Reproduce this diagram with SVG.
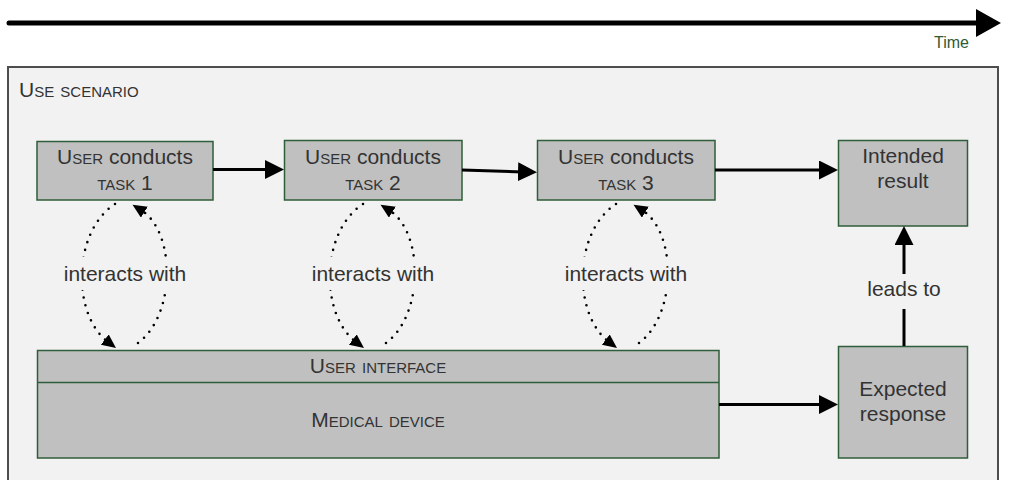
<svg xmlns="http://www.w3.org/2000/svg" width="1010" height="480" viewBox="0 0 1010 480">
<defs>
<style>
text{font-family:"Liberation Sans",Arial,sans-serif;fill:#333333;font-size:21px}
.c{text-anchor:middle}
.sc{font-variant:small-caps;font-size:22px}
.box{fill:#c0c0c0;stroke:#2f5e3a;stroke-width:1.5}
.edge{stroke:#000;stroke-width:3;fill:none}
.dot{stroke:#000;stroke-width:2.6;fill:none;stroke-dasharray:0 8;stroke-linecap:round}
.bg{fill:#f2f2f2}
</style>
<marker id="ah" markerUnits="userSpaceOnUse" markerWidth="20" markerHeight="20" refX="5" refY="9.5" orient="auto"><path d="M0,0 L19,9.5 L0,19 z" fill="#000"/></marker>
<marker id="dh" markerUnits="userSpaceOnUse" markerWidth="16" markerHeight="16" refX="4" refY="6.5" orient="auto"><path d="M0,0 L14,6.5 L0,13 z" fill="#000"/></marker>
</defs>
<rect width="1010" height="480" fill="#ffffff"/>

<g id="timeline">
<line x1="9" y1="23" x2="980" y2="23" stroke="#000" stroke-width="5" stroke-linecap="round"/>
<path d="M976,9 L1001,23 L976,37 z" fill="#000"/>
<text x="969" y="48" style="fill:#2e5a36;font-size:16px;text-anchor:end">Time</text>
</g>

<g id="use-scenario">
<rect x="8" y="67" width="990" height="425" fill="#f2f2f2" stroke="#4d4d4d" stroke-width="2"/>
<text x="19" y="97"><tspan>U</tspan><tspan class="sc">se scenario</tspan></text>
</g>

<g id="task1">
<rect class="box" x="37" y="141.5" width="176" height="58.5"/>
<text class="c" x="125" y="164"><tspan>U</tspan><tspan class="sc">ser</tspan> conducts</text>
<text class="c" x="125" y="190"><tspan class="sc">task</tspan> 1</text>
</g>
<g id="task2">
<rect class="box" x="284.5" y="140.5" width="177.5" height="59.5"/>
<text class="c" x="373" y="164"><tspan>U</tspan><tspan class="sc">ser</tspan> conducts</text>
<text class="c" x="373" y="190"><tspan class="sc">task</tspan> 2</text>
</g>
<g id="task3">
<rect class="box" x="537.5" y="140.5" width="177.5" height="59.5"/>
<text class="c" x="626" y="164"><tspan>U</tspan><tspan class="sc">ser</tspan> conducts</text>
<text class="c" x="626" y="190"><tspan class="sc">task</tspan> 3</text>
</g>
<g id="intended-result">
<rect class="box" x="838.5" y="140.5" width="129" height="85.5"/>
<text class="c" x="903" y="163">Intended</text>
<text class="c" x="903" y="188">result</text>
</g>
<g id="expected-response">
<rect class="box" x="838.5" y="346.5" width="129" height="111.5"/>
<text class="c" x="903" y="396">Expected</text>
<text class="c" x="903" y="421">response</text>
</g>
<g id="device">
<rect class="box" x="37.5" y="350.5" width="681.5" height="107.5"/>
<line x1="37.5" y1="382.5" x2="719" y2="382.5" stroke="#2f5e3a" stroke-width="1.5"/>
<text class="c" x="378" y="373"><tspan>U</tspan><tspan class="sc">ser interface</tspan></text>
<text class="c" x="378" y="427"><tspan>M</tspan><tspan class="sc">edical device</tspan></text>
</g>

<g id="connectors">
<line class="edge" x1="213" y1="169.5" x2="270" y2="169.5" marker-end="url(#ah)"/>
<line class="edge" x1="462" y1="170" x2="523" y2="171.9" marker-end="url(#ah)"/>
<line class="edge" x1="715" y1="170" x2="824" y2="170" marker-end="url(#ah)"/>
<line class="edge" x1="719" y1="404.5" x2="824" y2="404.5" marker-end="url(#ah)"/>
<line class="edge" x1="904" y1="346" x2="904" y2="240" marker-end="url(#ah)"/>
<rect class="bg" x="864" y="274" width="80" height="35"/>
<text class="c" x="904" y="296">leads to</text>

<g id="interaction1">
<path class="dot" d="M115,204 C72,232 72,315 108,342" marker-end="url(#dh)"/>
<path class="dot" d="M138,343 C176,315 176,232 141,210" marker-end="url(#dh)"/>
<rect class="bg" x="62" y="257" width="126" height="33"/>
<text class="c" x="125" y="281">interacts with</text>
</g>
<g id="interaction2" transform="translate(248,0)">
<path class="dot" d="M115,204 C72,232 72,315 108,342" marker-end="url(#dh)"/>
<path class="dot" d="M138,343 C176,315 176,232 141,210" marker-end="url(#dh)"/>
<rect class="bg" x="62" y="257" width="126" height="33"/>
<text class="c" x="125" y="281">interacts with</text>
</g>
<g id="interaction3" transform="translate(501,0)">
<path class="dot" d="M115,204 C72,232 72,315 108,342" marker-end="url(#dh)"/>
<path class="dot" d="M138,343 C176,315 176,232 141,210" marker-end="url(#dh)"/>
<rect class="bg" x="62" y="257" width="126" height="33"/>
<text class="c" x="125" y="281">interacts with</text>
</g>
</g>
</svg>
